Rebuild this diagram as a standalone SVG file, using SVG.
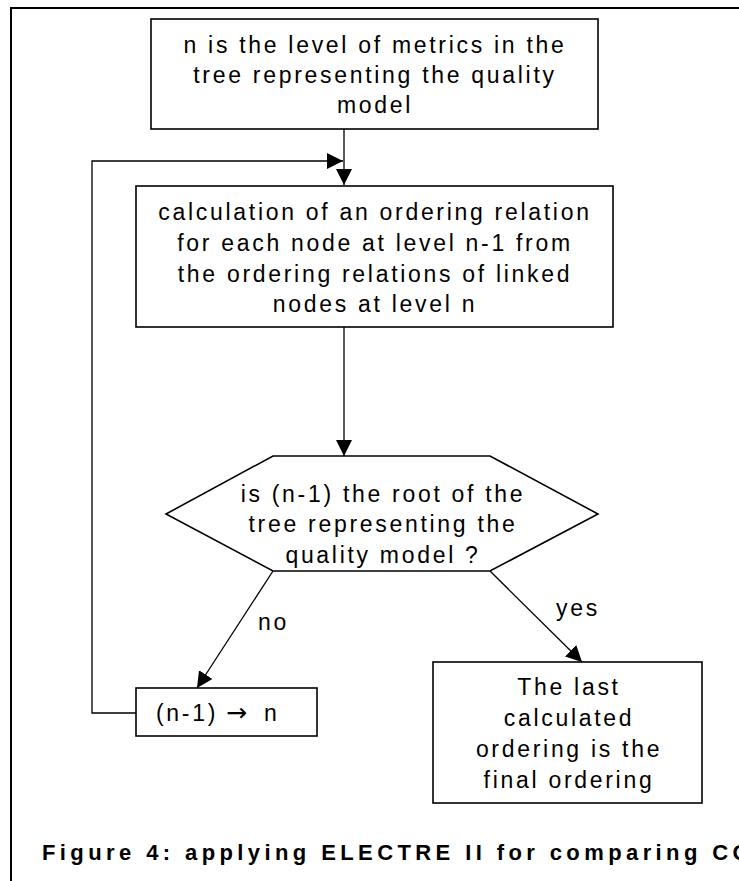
<svg xmlns="http://www.w3.org/2000/svg" width="739" height="881" viewBox="0 0 739 881">
<style>
  .shape { fill: #ffffff; stroke: #000000; stroke-width: 1.6; }
  .conn { fill: none; stroke: #000000; stroke-width: 1.3; }
  .frame { fill: none; stroke: #000000; stroke-width: 2; }
  .t { font-family: "Liberation Sans", Arial, sans-serif; font-size: 23px; letter-spacing: 2.7px; fill: #000000; }
  .c { text-anchor: middle; }
  .sym { font-family: "DejaVu Sans", sans-serif; font-size: 25px; letter-spacing: 0; }
  .cap { font-family: "Liberation Sans", Arial, sans-serif; font-size: 22px; font-weight: bold; letter-spacing: 4.4px; fill: #000000; }
</style>
<defs>
  <marker id="arrow" viewBox="0 0 16 16" refX="16" refY="8" markerWidth="16" markerHeight="16" markerUnits="userSpaceOnUse" orient="auto">
    <path d="M0,0 L16,8 L0,16 z" fill="#000000"/>
  </marker>
</defs>
<rect width="739" height="881" fill="#ffffff"/>
<path class="frame" d="M11,881 V8 H739"/>

<g id="connectors">
  <path class="conn" d="M344,129 V185" marker-end="url(#arrow)"/>
  <path class="conn" d="M136,713 H92 V161 H343" marker-end="url(#arrow)"/>
  <path class="conn" d="M344,327 V456" marker-end="url(#arrow)"/>
  <path class="conn" d="M273,571 L197,688" marker-end="url(#arrow)"/>
  <path class="conn" d="M490,571 L582,662" marker-end="url(#arrow)"/>
  <text class="t" x="258" y="630">no</text>
  <text class="t" x="556" y="616">yes</text>
</g>

<g id="start">
  <rect class="shape" x="151" y="19" width="447" height="110"/>
  <text class="t c" x="375" y="53">n is the level of metrics in the</text>
  <text class="t c" x="375" y="83">tree representing the quality</text>
  <text class="t c" x="375" y="113">model</text>
</g>

<g id="calc">
  <rect class="shape" x="136" y="186" width="477" height="141"/>
  <text class="t c" x="375" y="220">calculation of an ordering relation</text>
  <text class="t c" x="375" y="251">for each node at level n-1 from</text>
  <text class="t c" x="375" y="282">the ordering relations of linked</text>
  <text class="t c" x="375" y="312">nodes at level n</text>
</g>

<g id="decision">
  <polygon class="shape" points="273,456 490,456 598,514 490,571 273,571 166,514"/>
  <text class="t c" x="383" y="502">is (n-1) the root of the</text>
  <text class="t c" x="383" y="532">tree representing the</text>
  <text class="t c" x="383" y="563">quality model ?</text>
</g>

<g id="decrement">
  <rect class="shape" x="136" y="688" width="181" height="48"/>
  <text class="t" x="156" y="721">(n-1) <tspan class="sym" x="226">→</tspan><tspan x="264">n</tspan></text>
</g>

<g id="final">
  <rect class="shape" x="433" y="662" width="269" height="141"/>
  <text class="t c" x="569" y="695">The last</text>
  <text class="t c" x="569" y="726">calculated</text>
  <text class="t c" x="569" y="757">ordering is the</text>
  <text class="t c" x="569" y="788">final ordering</text>
</g>

<text class="cap" x="42" y="860">Figure 4: applying ELECTRE II for comparing CO</text>
</svg>
